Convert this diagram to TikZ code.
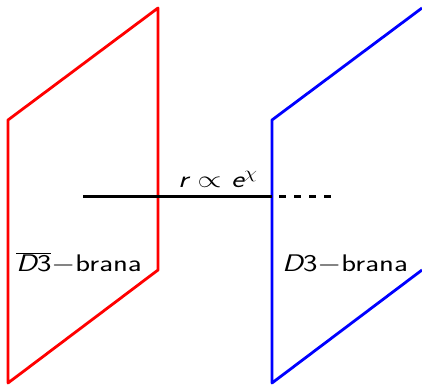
\documentclass[tikz,border=0pt]{standalone}
\usepackage{fix-cm}
\usepackage{fontspec}
\usepackage{graphicx}
\renewcommand\familydefault{\sfdefault}
\newcommand\widetxt[1]{\scalebox{1.28}[1]{#1}}

\begin{document}
\begin{tikzpicture}[line width=2.8pt, line join=round, x=1pt, y=-1pt,
    font=\fontsize{24}{29}\selectfont\sffamily]
  \useasboundingbox (0,0) rectangle (422,385);
  % The anti-brane: a red sheet seen in perspective.
  \coordinate (aTL) at (8,120);
  \coordinate (aTR) at (158,8);
  \coordinate (aBR) at (158,270);
  \coordinate (aBL) at (8,383);
  \draw[red] (aTL) -- (aTR) -- (aBR) -- (aBL) -- cycle;
  % The brane: the same sheet shifted right, its far edge out of view.
  \coordinate (bTL) at (272,120);
  \coordinate (bTR) at (422,8);
  \coordinate (bBR) at (422,270);
  \coordinate (bBL) at (272,383);
  \draw[blue] (bTR) -- (bTL) -- (bBL) -- (bBR);
  % The separation between them, continued past the brane as dashes.
  \coordinate (rA) at (83,196);
  \coordinate (rB) at (272,196);
  \coordinate (rC) at (335,196);
  \draw[line width=3pt] (rA) -- (rB);
  \draw[line width=3pt, dash pattern=on 7pt off 8pt, dash phase=8pt] (rB) -- (rC);
  % Labels, set on their baselines.
  \node[anchor=base] (dist) at (218,187) {\widetxt{{\itshape r} $\propto$ {\itshape e}$^{\chi}$}};
  \node[anchor=base] (antiD) at (79,271) {\widetxt{$\overline{\mbox{{\itshape D}3}}-$brana}};
  \node[anchor=base] (braneD) at (345,271) {\widetxt{{\itshape D}3$-$brana}};
\end{tikzpicture}
\end{document}
